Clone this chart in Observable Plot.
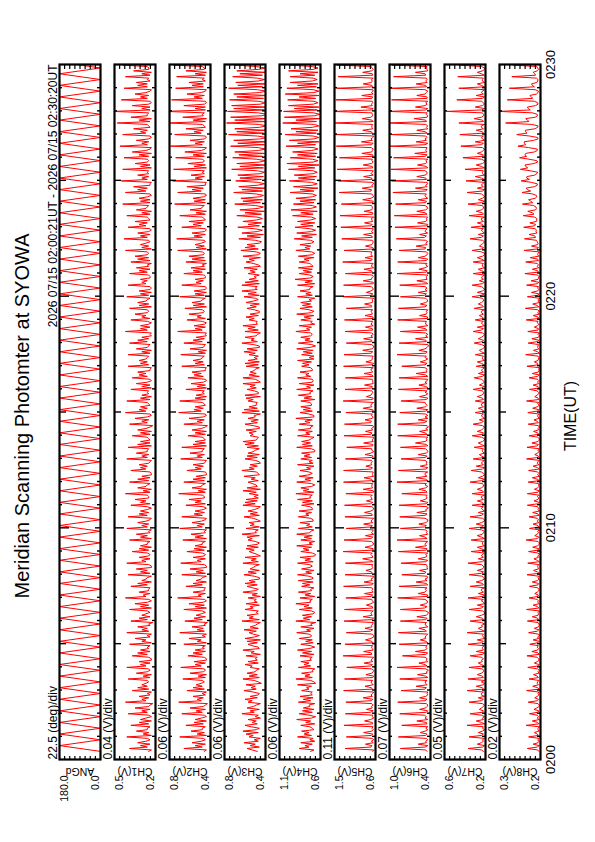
<!DOCTYPE html>
<html><head><meta charset="utf-8">
<script src="https://cdn.jsdelivr.net/npm/d3@7"></script>
<script src="https://cdn.jsdelivr.net/npm/@observablehq/plot@0.6"></script>
<style>
html,body{margin:0;padding:0;background:#fff;overflow:hidden;width:595px;height:842px}
#land{position:absolute;left:0;top:0;width:842px;height:595px;transform-origin:0 0;transform:translate(0,842px) rotate(-90deg);font-family:"Liberation Sans",Arial,sans-serif;background:#fff}
#land svg{position:absolute;left:0;overflow:visible}
</style></head><body><div id="land"></div>
<script>
const title = "Meridian Scanning Photomter at SYOWA";
const period = "2026 07/15 02:00:21UT - 2026 07/15 02:30:20UT";
const timeTicks = [0, 600, 1200, 1800];
const timeLabels = ["0200", "0210", "0220", "0230"];
const axisTitle = "TIME(UT)";
const panelNames = ["ANGd","CH1(V)","CH2(V)","CH3(V)","CH4(V)","CH5(V)","CH6(V)","CH7(V)","CH8(V)"];
const lowVals = [0.0, 0.2, 0.4, 0.4, 0.6, 0.6, 0.4, 0.2, 0.2];
const highVals = [180.0, 0.5, 0.8, 0.8, 1.1, 1.5, 1.0, 0.6, 0.3];
const lowLabels = ["0.0","0.2","0.4","0.4","0.6","0.6","0.4","0.2","0.2"];
const highLabels = ["180.0","0.5","0.8","0.8","1.1","1.5","1.0","0.6","0.3"];
const perDiv = ["22.5 (deg)/div","0.04 (V)/div","0.06 (V)/div","0.06 (V)/div","0.06 (V)/div","0.11 (V)/div","0.07 (V)/div","0.05 (V)/div","0.02 (V)/div"];

// scan angle turning points, one every 15 s from 02:00:21
const angTurns = [0,180,0,180,0,180,0,180,0,180,0,180,0,180,0,180,0,180,0,180,
0,180,0,180,0,180,0,180,0,180,0,180,0,180,0,180,0,180,0,180,
0,180,0,180,0,180,0,180,0,180,0,180,0,180,0,180,0,180,0,180,
0,180,0,180,0,180,0,180,0,180,0,180,0,180,0,180,0,180,0,180,
0,180,0,180,0,180,0,180,0,180,0,180,0,180,0,180,0,180,0,180,
0,180,0,180,0,180,0,180,0,180,0,180,0,180,0,180,0,180,0,180,0];

// channel samples, one every 3.75 s from 02:00:21 (16 per minute, one row per minute)
const ch1 = [
0.25,0.23,0.39,0.26,0.31,0.24,0.33,0.27,0.24,0.26,0.41,0.23,0.29,0.25,0.34,0.26,
0.26,0.24,0.38,0.25,0.32,0.23,0.31,0.27,0.23,0.25,0.40,0.26,0.30,0.24,0.35,0.25,
0.24,0.22,0.42,0.27,0.30,0.25,0.32,0.24,0.26,0.23,0.37,0.25,0.33,0.26,0.30,0.27,
0.25,0.26,0.40,0.24,0.29,0.23,0.34,0.26,0.24,0.25,0.41,0.27,0.31,0.24,0.32,0.23,
0.23,0.25,0.37,0.26,0.33,0.24,0.31,0.25,0.26,0.24,0.39,0.23,0.30,0.27,0.35,0.24,
0.26,0.23,0.41,0.25,0.30,0.26,0.33,0.24,0.25,0.22,0.38,0.26,0.32,0.24,0.30,0.27,
0.24,0.26,0.39,0.23,0.31,0.25,0.35,0.26,0.23,0.25,0.42,0.27,0.29,0.24,0.32,0.25,
0.25,0.24,0.38,0.26,0.33,0.23,0.30,0.27,0.26,0.23,0.40,0.24,0.31,0.26,0.34,0.23,
0.23,0.25,0.41,0.27,0.30,0.24,0.32,0.25,0.24,0.26,0.37,0.25,0.32,0.23,0.31,0.26,
0.26,0.24,0.39,0.23,0.31,0.26,0.34,0.24,0.25,0.23,0.41,0.26,0.30,0.25,0.33,0.27,
0.24,0.23,0.40,0.26,0.32,0.25,0.31,0.26,0.23,0.26,0.38,0.24,0.31,0.27,0.35,0.25,
0.25,0.26,0.42,0.24,0.29,0.23,0.33,0.27,0.26,0.24,0.39,0.25,0.33,0.24,0.30,0.23,
0.23,0.24,0.38,0.27,0.31,0.26,0.32,0.25,0.24,0.23,0.41,0.26,0.30,0.25,0.34,0.26,
0.26,0.25,0.40,0.23,0.33,0.24,0.31,0.24,0.25,0.26,0.37,0.24,0.31,0.23,0.33,0.27,
0.24,0.22,0.39,0.26,0.30,0.25,0.35,0.26,0.23,0.24,0.42,0.27,0.32,0.26,0.31,0.24,
0.25,0.26,0.41,0.24,0.31,0.23,0.30,0.25,0.26,0.25,0.38,0.23,0.30,0.24,0.34,0.26,
0.23,0.24,0.37,0.26,0.32,0.27,0.33,0.24,0.24,0.23,0.40,0.25,0.31,0.26,0.32,0.27,
0.26,0.25,0.40,0.24,0.30,0.23,0.34,0.26,0.25,0.24,0.39,0.26,0.33,0.25,0.30,0.23,
0.24,0.23,0.42,0.26,0.31,0.24,0.31,0.25,0.23,0.26,0.38,0.24,0.30,0.27,0.35,0.26,
0.25,0.26,0.39,0.23,0.32,0.25,0.33,0.27,0.26,0.24,0.41,0.25,0.31,0.23,0.32,0.24,
0.23,0.24,0.40,0.27,0.30,0.26,0.31,0.24,0.24,0.25,0.39,0.26,0.32,0.24,0.34,0.25,
0.26,0.23,0.38,0.24,0.33,0.25,0.35,0.26,0.25,0.26,0.42,0.23,0.30,0.25,0.31,0.27,
0.24,0.25,0.43,0.26,0.31,0.24,0.33,0.25,0.23,0.24,0.40,0.27,0.32,0.26,0.35,0.24,
0.25,0.26,0.41,0.24,0.30,0.23,0.34,0.27,0.26,0.25,0.44,0.24,0.31,0.24,0.32,0.26,
0.23,0.24,0.42,0.27,0.33,0.26,0.36,0.24,0.24,0.23,0.45,0.26,0.30,0.25,0.33,0.25,
0.26,0.25,0.44,0.23,0.31,0.24,0.35,0.26,0.25,0.26,0.43,0.25,0.32,0.23,0.37,0.27,
0.24,0.23,0.46,0.26,0.30,0.25,0.34,0.25,0.23,0.24,0.44,0.27,0.31,0.26,0.36,0.24,
0.25,0.26,0.48,0.24,0.32,0.23,0.38,0.26,0.26,0.25,0.51,0.24,0.30,0.24,0.37,0.25,
0.23,0.24,0.45,0.26,0.31,0.25,0.35,0.27,0.24,0.23,0.43,0.26,0.33,0.26,0.34,0.24,
0.26,0.25,0.42,0.24,0.30,0.23,0.36,0.25,0.25,0.26,0.44,0.23,0.31,0.24,0.33,0.26];
const ch2 = [
0.46,0.44,0.66,0.48,0.55,0.45,0.58,0.49,0.45,0.47,0.70,0.44,0.53,0.46,0.59,0.48,
0.48,0.45,0.64,0.47,0.56,0.44,0.55,0.49,0.44,0.46,0.68,0.48,0.54,0.45,0.60,0.47,
0.45,0.43,0.71,0.49,0.53,0.47,0.57,0.45,0.48,0.44,0.63,0.46,0.57,0.48,0.54,0.49,
0.46,0.48,0.67,0.45,0.52,0.44,0.60,0.47,0.45,0.46,0.69,0.49,0.55,0.45,0.56,0.44,
0.44,0.46,0.62,0.48,0.57,0.45,0.55,0.46,0.48,0.45,0.66,0.44,0.53,0.49,0.61,0.45,
0.48,0.44,0.70,0.46,0.53,0.47,0.58,0.45,0.46,0.43,0.65,0.48,0.56,0.45,0.54,0.49,
0.45,0.48,0.66,0.44,0.55,0.46,0.61,0.47,0.44,0.46,0.72,0.49,0.52,0.45,0.57,0.46,
0.46,0.45,0.64,0.48,0.57,0.44,0.54,0.49,0.48,0.44,0.68,0.45,0.54,0.47,0.60,0.44,
0.44,0.46,0.69,0.49,0.53,0.45,0.57,0.46,0.45,0.48,0.63,0.46,0.56,0.44,0.55,0.48,
0.48,0.45,0.67,0.44,0.55,0.47,0.59,0.45,0.46,0.44,0.70,0.48,0.53,0.46,0.58,0.49,
0.45,0.44,0.68,0.48,0.56,0.46,0.55,0.47,0.44,0.47,0.64,0.45,0.55,0.49,0.61,0.46,
0.46,0.48,0.71,0.45,0.52,0.44,0.58,0.49,0.48,0.45,0.66,0.46,0.57,0.45,0.54,0.44,
0.44,0.45,0.63,0.49,0.55,0.47,0.57,0.46,0.45,0.44,0.69,0.48,0.53,0.46,0.60,0.48,
0.48,0.46,0.68,0.44,0.57,0.45,0.55,0.45,0.46,0.48,0.62,0.45,0.55,0.44,0.58,0.49,
0.45,0.43,0.66,0.48,0.53,0.46,0.61,0.47,0.44,0.45,0.71,0.49,0.56,0.47,0.55,0.45,
0.46,0.48,0.70,0.45,0.55,0.44,0.54,0.46,0.48,0.46,0.64,0.44,0.53,0.45,0.59,0.47,
0.44,0.45,0.62,0.47,0.56,0.49,0.58,0.45,0.45,0.44,0.68,0.46,0.55,0.47,0.57,0.49,
0.48,0.46,0.69,0.45,0.52,0.44,0.60,0.47,0.46,0.45,0.66,0.48,0.57,0.46,0.54,0.44,
0.45,0.44,0.72,0.48,0.55,0.45,0.56,0.46,0.44,0.48,0.63,0.45,0.53,0.49,0.61,0.47,
0.46,0.48,0.65,0.44,0.57,0.46,0.58,0.49,0.48,0.45,0.70,0.46,0.55,0.44,0.56,0.45,
0.44,0.45,0.68,0.49,0.54,0.47,0.55,0.45,0.45,0.46,0.66,0.48,0.57,0.45,0.59,0.46,
0.48,0.44,0.64,0.45,0.58,0.46,0.61,0.47,0.46,0.48,0.72,0.44,0.54,0.46,0.55,0.49,
0.45,0.46,0.73,0.48,0.56,0.45,0.58,0.46,0.44,0.45,0.68,0.49,0.57,0.47,0.61,0.45,
0.46,0.48,0.70,0.45,0.54,0.44,0.60,0.49,0.48,0.46,0.75,0.45,0.56,0.45,0.57,0.47,
0.44,0.45,0.72,0.49,0.58,0.47,0.63,0.45,0.45,0.44,0.77,0.48,0.55,0.46,0.59,0.46,
0.48,0.46,0.76,0.44,0.56,0.45,0.62,0.47,0.46,0.48,0.74,0.46,0.57,0.44,0.65,0.49,
0.45,0.44,0.79,0.48,0.55,0.46,0.60,0.46,0.44,0.45,0.75,0.49,0.56,0.47,0.64,0.45,
0.46,0.48,0.82,0.45,0.57,0.44,0.67,0.47,0.48,0.46,0.84,0.45,0.55,0.45,0.66,0.46,
0.44,0.45,0.78,0.48,0.56,0.46,0.63,0.49,0.45,0.44,0.74,0.47,0.58,0.47,0.61,0.45,
0.48,0.46,0.73,0.45,0.55,0.44,0.64,0.46,0.46,0.48,0.76,0.44,0.56,0.45,0.60,0.47];
const ch3 = [
0.48,0.53,0.58,0.46,0.55,0.50,0.61,0.47,0.51,0.45,0.56,0.52,0.59,0.47,0.62,0.49,
0.46,0.54,0.60,0.48,0.53,0.49,0.57,0.45,0.50,0.47,0.63,0.51,0.55,0.46,0.58,0.52,
0.49,0.45,0.57,0.53,0.60,0.48,0.55,0.47,0.46,0.52,0.61,0.49,0.54,0.50,0.59,0.44,
0.47,0.51,0.62,0.46,0.56,0.48,0.58,0.50,0.49,0.46,0.55,0.53,0.60,0.47,0.57,0.48,
0.50,0.48,0.59,0.45,0.54,0.51,0.62,0.46,0.47,0.53,0.57,0.48,0.58,0.45,0.60,0.51,
0.46,0.52,0.56,0.49,0.61,0.47,0.55,0.50,0.48,0.45,0.63,0.46,0.56,0.52,0.58,0.47,
0.49,0.47,0.60,0.52,0.55,0.46,0.59,0.48,0.51,0.49,0.57,0.45,0.53,0.48,0.62,0.50,
0.47,0.53,0.58,0.48,0.60,0.50,0.56,0.46,0.46,0.51,0.61,0.49,0.57,0.46,0.55,0.52,
0.50,0.46,0.62,0.47,0.54,0.49,0.60,0.45,0.48,0.52,0.56,0.51,0.59,0.47,0.58,0.48,
0.46,0.50,0.57,0.53,0.58,0.46,0.63,0.49,0.50,0.47,0.59,0.46,0.55,0.51,0.56,0.45,
0.48,0.52,0.61,0.46,0.55,0.48,0.57,0.51,0.47,0.45,0.62,0.50,0.60,0.48,0.59,0.47,
0.51,0.47,0.56,0.49,0.62,0.45,0.58,0.48,0.49,0.53,0.57,0.47,0.54,0.50,0.61,0.46,
0.47,0.49,0.63,0.51,0.56,0.48,0.55,0.45,0.46,0.50,0.60,0.48,0.58,0.46,0.57,0.52,
0.50,0.46,0.58,0.47,0.60,0.51,0.62,0.49,0.48,0.47,0.55,0.52,0.56,0.49,0.59,0.46,
0.46,0.52,0.60,0.48,0.54,0.47,0.57,0.50,0.51,0.45,0.63,0.46,0.61,0.48,0.56,0.49,
0.49,0.48,0.57,0.52,0.59,0.45,0.60,0.47,0.47,0.51,0.58,0.49,0.55,0.50,0.62,0.45,
0.47,0.50,0.62,0.46,0.56,0.49,0.55,0.51,0.50,0.46,0.59,0.47,0.60,0.46,0.57,0.48,
0.51,0.47,0.56,0.50,0.61,0.48,0.58,0.46,0.46,0.52,0.63,0.48,0.54,0.51,0.60,0.49,
0.48,0.45,0.60,0.47,0.57,0.50,0.62,0.48,0.49,0.48,0.56,0.51,0.59,0.47,0.55,0.46,
0.46,0.51,0.58,0.49,0.55,0.46,0.59,0.52,0.47,0.50,0.61,0.46,0.57,0.49,0.63,0.48,
0.50,0.48,0.63,0.46,0.60,0.47,0.56,0.49,0.51,0.46,0.57,0.50,0.55,0.48,0.61,0.45,
0.47,0.52,0.59,0.51,0.56,0.45,0.62,0.47,0.45,0.49,0.64,0.47,0.60,0.50,0.58,0.46,
0.44,0.50,0.66,0.45,0.58,0.42,0.63,0.48,0.43,0.51,0.67,0.46,0.57,0.44,0.62,0.49,
0.43,0.48,0.68,0.44,0.60,0.41,0.65,0.47,0.42,0.50,0.70,0.45,0.62,0.43,0.64,0.46,
0.42,0.49,0.71,0.43,0.63,0.40,0.66,0.48,0.41,0.47,0.69,0.44,0.65,0.42,0.67,0.45,
0.41,0.48,0.73,0.42,0.65,0.39,0.68,0.46,0.40,0.49,0.72,0.43,0.66,0.41,0.70,0.47,
0.40,0.47,0.74,0.41,0.67,0.38,0.71,0.45,0.39,0.48,0.76,0.42,0.68,0.40,0.70,0.46,
0.39,0.46,0.78,0.40,0.70,0.37,0.74,0.44,0.38,0.47,0.77,0.41,0.71,0.39,0.73,0.45,
0.40,0.47,0.75,0.42,0.68,0.38,0.71,0.46,0.39,0.48,0.76,0.43,0.67,0.40,0.69,0.47,
0.41,0.48,0.72,0.43,0.65,0.39,0.68,0.47,0.40,0.49,0.70,0.44,0.64,0.41,0.67,0.46];
const ch4 = [
0.72,0.68,0.86,0.74,0.79,0.70,0.84,0.67,0.73,0.69,0.88,0.71,0.80,0.74,0.83,0.68,
0.70,0.73,0.84,0.67,0.78,0.72,0.89,0.71,0.66,0.74,0.86,0.70,0.82,0.68,0.81,0.73,
0.74,0.67,0.87,0.72,0.81,0.69,0.85,0.70,0.72,0.70,0.83,0.74,0.77,0.71,0.88,0.66,
0.68,0.72,0.90,0.70,0.79,0.73,0.83,0.69,0.70,0.67,0.87,0.72,0.80,0.74,0.84,0.71,
0.73,0.70,0.85,0.68,0.82,0.71,0.88,0.74,0.67,0.72,0.84,0.69,0.78,0.70,0.86,0.72,
0.71,0.74,0.89,0.72,0.77,0.68,0.84,0.70,0.72,0.66,0.90,0.73,0.81,0.71,0.82,0.69,
0.67,0.71,0.86,0.70,0.80,0.74,0.90,0.72,0.73,0.70,0.85,0.67,0.79,0.72,0.87,0.71,
0.72,0.68,0.83,0.73,0.82,0.69,0.87,0.70,0.69,0.74,0.88,0.71,0.78,0.68,0.83,0.73,
0.70,0.73,0.88,0.69,0.79,0.72,0.85,0.67,0.66,0.70,0.84,0.74,0.81,0.71,0.89,0.70,
0.74,0.67,0.84,0.71,0.80,0.70,0.89,0.73,0.72,0.68,0.87,0.70,0.77,0.73,0.85,0.69,
0.69,0.72,0.87,0.74,0.78,0.71,0.86,0.70,0.70,0.73,0.83,0.68,0.82,0.70,0.88,0.72,
0.73,0.70,0.90,0.68,0.81,0.74,0.84,0.71,0.67,0.71,0.89,0.72,0.79,0.69,0.86,0.74,
0.70,0.74,0.85,0.72,0.77,0.68,0.88,0.69,0.74,0.70,0.84,0.71,0.80,0.73,0.83,0.67,
0.67,0.71,0.89,0.70,0.82,0.72,0.83,0.74,0.71,0.68,0.88,0.73,0.78,0.70,0.87,0.72,
0.72,0.69,0.86,0.73,0.79,0.70,0.90,0.68,0.68,0.74,0.85,0.70,0.81,0.72,0.84,0.71,
0.71,0.73,0.84,0.67,0.80,0.71,0.87,0.72,0.73,0.69,0.89,0.72,0.77,0.68,0.86,0.70,
0.69,0.70,0.88,0.72,0.78,0.74,0.85,0.70,0.70,0.72,0.83,0.74,0.82,0.71,0.88,0.68,
0.74,0.68,0.83,0.70,0.81,0.69,0.89,0.73,0.66,0.71,0.87,0.69,0.79,0.73,0.84,0.72,
0.70,0.72,0.90,0.73,0.77,0.71,0.86,0.67,0.72,0.70,0.84,0.72,0.80,0.68,0.89,0.71,
0.68,0.74,0.85,0.70,0.82,0.72,0.84,0.71,0.74,0.67,0.88,0.70,0.78,0.72,0.85,0.73,
0.73,0.69,0.88,0.67,0.79,0.70,0.91,0.72,0.69,0.73,0.86,0.71,0.81,0.70,0.87,0.69,
0.71,0.73,0.86,0.74,0.80,0.68,0.87,0.70,0.67,0.71,0.90,0.73,0.79,0.72,0.85,0.71,
0.68,0.72,0.92,0.70,0.83,0.65,0.89,0.71,0.66,0.73,0.91,0.69,0.84,0.67,0.88,0.72,
0.66,0.71,0.94,0.69,0.84,0.64,0.96,0.72,0.65,0.70,0.93,0.68,0.85,0.66,0.90,0.70,
0.65,0.70,0.97,0.68,0.85,0.63,0.93,0.70,0.64,0.71,0.98,0.67,0.87,0.65,0.92,0.69,
0.64,0.69,0.99,0.67,0.87,0.62,1.01,0.69,0.63,0.70,0.97,0.66,0.88,0.64,0.94,0.71,
0.63,0.68,1.02,0.66,0.88,0.62,0.98,0.68,0.62,0.69,1.03,0.65,0.90,0.63,0.96,0.70,
0.62,0.67,1.06,0.65,0.90,0.61,1.04,0.67,0.61,0.68,1.05,0.64,0.92,0.62,0.99,0.69,
0.63,0.68,1.00,0.66,0.86,0.62,1.03,0.68,0.62,0.69,1.01,0.65,0.88,0.63,0.97,0.70,
0.64,0.69,0.97,0.67,0.85,0.63,0.99,0.69,0.63,0.70,0.98,0.66,0.86,0.64,0.95,0.71];
const ch5 = [
0.66,0.64,1.27,0.70,0.68,0.82,0.65,0.69,0.64,0.67,1.24,0.69,0.66,0.86,0.68,0.65,
0.68,0.65,1.29,0.66,0.67,0.84,0.71,0.64,0.67,0.66,1.26,0.71,0.65,0.80,0.67,0.69,
0.65,0.68,1.25,0.69,0.66,0.87,0.67,0.70,0.66,0.64,1.30,0.67,0.69,0.83,0.65,0.68,
0.70,0.66,1.28,0.66,0.64,0.81,0.68,0.65,0.64,0.69,1.23,0.70,0.67,0.85,0.66,0.70,
0.67,0.64,1.31,0.68,0.69,0.86,0.65,0.67,0.69,0.66,1.27,0.65,0.68,0.82,0.70,0.64,
0.64,0.67,1.24,0.71,0.66,0.83,0.68,0.69,0.66,0.65,1.29,0.68,0.64,0.87,0.67,0.70,
0.69,0.65,1.28,0.66,0.67,0.80,0.70,0.64,0.67,0.68,1.25,0.70,0.66,0.84,0.65,0.68,
0.66,0.68,1.30,0.68,0.65,0.85,0.67,0.70,0.65,0.64,1.27,0.67,0.69,0.81,0.68,0.66,
0.68,0.66,1.26,0.65,0.70,0.88,0.66,0.67,0.70,0.67,1.31,0.66,0.65,0.83,0.69,0.64,
0.65,0.69,1.29,0.70,0.66,0.82,0.64,0.69,0.66,0.65,1.24,0.69,0.67,0.86,0.66,0.70,
0.67,0.64,1.27,0.67,0.68,0.84,0.70,0.65,0.64,0.68,1.28,0.71,0.66,0.80,0.67,0.69,
0.70,0.67,1.25,0.64,0.65,0.87,0.66,0.68,0.68,0.66,1.30,0.66,0.69,0.85,0.64,0.67,
0.66,0.65,1.30,0.69,0.67,0.81,0.68,0.70,0.67,0.69,1.26,0.68,0.65,0.83,0.70,0.64,
0.68,0.68,1.23,0.66,0.66,0.86,0.65,0.67,0.65,0.64,1.29,0.70,0.68,0.82,0.66,0.69,
0.64,0.66,1.28,0.71,0.69,0.83,0.67,0.65,0.69,0.67,1.25,0.65,0.66,0.87,0.68,0.70,
0.69,0.64,1.31,0.67,0.65,0.80,0.70,0.68,0.66,0.68,1.27,0.68,0.67,0.84,0.65,0.66,
0.66,0.67,1.26,0.65,0.68,0.85,0.66,0.69,0.70,0.65,1.30,0.67,0.64,0.81,0.69,0.67,
0.67,0.65,1.29,0.70,0.66,0.88,0.68,0.64,0.64,0.69,1.24,0.69,0.68,0.86,0.66,0.70,
0.65,0.68,1.27,0.66,0.67,0.82,0.65,0.70,0.68,0.66,1.28,0.66,0.65,0.83,0.67,0.68,
0.70,0.66,1.24,0.68,0.69,0.84,0.67,0.66,0.67,0.64,1.31,0.70,0.66,0.80,0.70,0.65,
0.66,0.69,1.30,0.65,0.65,0.87,0.69,0.68,0.65,0.67,1.26,0.67,0.69,0.85,0.64,0.69,
0.68,0.65,1.32,0.69,0.67,0.83,0.66,0.70,0.69,0.68,1.29,0.64,0.66,0.82,0.68,0.66,
0.65,0.67,1.34,0.67,0.68,0.86,0.65,0.69,0.66,0.65,1.36,0.70,0.67,0.84,0.66,0.68,
0.69,0.64,1.38,0.66,0.66,0.85,0.68,0.67,0.67,0.69,1.35,0.66,0.65,0.88,0.70,0.64,
0.66,0.68,1.40,0.70,0.69,0.89,0.66,0.68,0.64,0.66,1.42,0.68,0.68,0.86,0.65,0.70,
0.67,0.65,1.44,0.66,0.67,0.87,0.69,0.65,0.68,0.67,1.39,0.65,0.66,0.90,0.68,0.67,
0.65,0.69,1.46,0.69,0.65,0.91,0.67,0.70,0.66,0.64,1.48,0.67,0.69,0.88,0.66,0.68,
0.68,0.66,1.52,0.65,0.68,0.89,0.70,0.66,0.67,0.68,1.55,0.69,0.65,0.92,0.67,0.69,
0.66,0.67,1.47,0.68,0.66,0.90,0.65,0.69,0.65,0.66,1.45,0.66,0.68,0.87,0.69,0.67,
0.69,0.65,1.42,0.66,0.67,0.88,0.68,0.65,0.68,0.69,1.44,0.67,0.66,0.89,0.66,0.70];
const ch6 = [
0.45,0.47,0.84,0.48,0.44,0.58,0.46,0.47,0.44,0.46,0.87,0.47,0.45,0.55,0.48,0.44,
0.47,0.44,0.82,0.45,0.46,0.60,0.44,0.48,0.46,0.49,0.85,0.46,0.44,0.56,0.47,0.45,
0.44,0.46,0.88,0.48,0.45,0.56,0.47,0.44,0.45,0.44,0.83,0.48,0.46,0.61,0.45,0.47,
0.48,0.45,0.85,0.44,0.47,0.59,0.45,0.46,0.43,0.47,0.89,0.45,0.48,0.57,0.44,0.46,
0.45,0.48,0.81,0.47,0.44,0.62,0.48,0.45,0.47,0.45,0.86,0.44,0.46,0.55,0.47,0.48,
0.46,0.44,0.87,0.46,0.48,0.57,0.44,0.47,0.48,0.46,0.84,0.47,0.45,0.60,0.46,0.44,
0.43,0.47,0.84,0.49,0.45,0.55,0.47,0.44,0.45,0.48,0.88,0.45,0.44,0.58,0.48,0.46,
0.48,0.45,0.86,0.44,0.46,0.61,0.45,0.48,0.44,0.45,0.82,0.48,0.47,0.56,0.44,0.45,
0.45,0.46,0.83,0.47,0.44,0.58,0.48,0.45,0.47,0.44,0.87,0.46,0.45,0.62,0.46,0.48,
0.47,0.44,0.89,0.45,0.48,0.56,0.44,0.46,0.45,0.47,0.84,0.49,0.46,0.57,0.47,0.44,
0.44,0.48,0.85,0.48,0.45,0.60,0.46,0.47,0.43,0.45,0.86,0.46,0.44,0.55,0.48,0.45,
0.46,0.45,0.82,0.45,0.47,0.57,0.47,0.44,0.48,0.46,0.89,0.44,0.47,0.61,0.45,0.48,
0.48,0.44,0.87,0.47,0.44,0.55,0.45,0.46,0.45,0.48,0.83,0.48,0.45,0.58,0.46,0.44,
0.45,0.47,0.84,0.44,0.46,0.62,0.48,0.45,0.46,0.44,0.88,0.45,0.48,0.56,0.44,0.47,
0.43,0.45,0.88,0.49,0.45,0.58,0.44,0.48,0.44,0.47,0.85,0.47,0.44,0.60,0.47,0.45,
0.47,0.48,0.83,0.46,0.44,0.56,0.47,0.44,0.48,0.45,0.87,0.44,0.46,0.57,0.45,0.48,
0.45,0.44,0.86,0.44,0.47,0.61,0.45,0.46,0.45,0.48,0.82,0.48,0.45,0.55,0.48,0.44,
0.48,0.46,0.89,0.47,0.45,0.57,0.48,0.45,0.43,0.44,0.86,0.46,0.47,0.62,0.44,0.47,
0.44,0.47,0.84,0.45,0.48,0.59,0.44,0.47,0.47,0.46,0.88,0.45,0.44,0.56,0.46,0.45,
0.46,0.44,0.87,0.48,0.45,0.55,0.47,0.44,0.45,0.47,0.84,0.49,0.46,0.58,0.45,0.48,
0.45,0.48,0.85,0.44,0.47,0.60,0.45,0.46,0.46,0.44,0.89,0.46,0.45,0.57,0.48,0.44,
0.47,0.45,0.88,0.46,0.44,0.58,0.48,0.45,0.44,0.46,0.86,0.48,0.47,0.61,0.45,0.47,
0.44,0.47,0.90,0.49,0.46,0.56,0.44,0.48,0.47,0.45,0.92,0.45,0.44,0.59,0.47,0.45,
0.46,0.44,0.93,0.45,0.48,0.60,0.47,0.44,0.45,0.48,0.91,0.47,0.46,0.58,0.44,0.47,
0.48,0.46,0.95,0.47,0.45,0.62,0.45,0.47,0.44,0.45,0.97,0.46,0.47,0.60,0.48,0.45,
0.45,0.48,0.98,0.44,0.46,0.59,0.47,0.45,0.47,0.44,0.94,0.48,0.45,0.63,0.45,0.47,
0.46,0.45,1.00,0.48,0.44,0.61,0.46,0.48,0.45,0.47,0.97,0.45,0.48,0.60,0.44,0.46,
0.44,0.47,1.03,0.46,0.47,0.64,0.45,0.44,0.46,0.45,1.01,0.47,0.44,0.62,0.48,0.45,
0.47,0.44,0.97,0.45,0.45,0.60,0.48,0.46,0.44,0.48,0.99,0.46,0.47,0.61,0.45,0.47,
0.45,0.46,0.94,0.47,0.48,0.62,0.44,0.45,0.46,0.45,0.96,0.44,0.45,0.59,0.47,0.48];
const ch7 = [
0.22,0.24,0.37,0.23,0.21,0.28,0.24,0.22,0.23,0.21,0.36,0.24,0.22,0.27,0.23,0.21,
0.23,0.22,0.38,0.21,0.24,0.29,0.22,0.23,0.21,0.24,0.35,0.23,0.22,0.26,0.24,0.22,
0.21,0.23,0.36,0.24,0.22,0.27,0.21,0.24,0.24,0.22,0.38,0.22,0.23,0.29,0.22,0.21,
0.24,0.21,0.37,0.22,0.23,0.28,0.24,0.22,0.22,0.23,0.36,0.21,0.24,0.27,0.23,0.24,
0.22,0.24,0.35,0.23,0.21,0.29,0.22,0.23,0.23,0.21,0.37,0.24,0.22,0.28,0.21,0.22,
0.23,0.22,0.38,0.21,0.24,0.27,0.23,0.24,0.21,0.24,0.35,0.22,0.23,0.29,0.24,0.21,
0.21,0.23,0.36,0.24,0.22,0.28,0.21,0.22,0.24,0.22,0.37,0.23,0.21,0.27,0.22,0.24,
0.24,0.21,0.35,0.22,0.23,0.29,0.24,0.21,0.22,0.23,0.36,0.24,0.22,0.28,0.23,0.22,
0.22,0.24,0.37,0.23,0.21,0.27,0.22,0.24,0.23,0.21,0.34,0.21,0.24,0.28,0.21,0.23,
0.23,0.22,0.34,0.21,0.24,0.28,0.23,0.22,0.21,0.24,0.36,0.23,0.22,0.29,0.24,0.21,
0.21,0.23,0.35,0.24,0.22,0.27,0.21,0.23,0.24,0.22,0.33,0.22,0.23,0.28,0.22,0.24,
0.24,0.21,0.33,0.22,0.23,0.28,0.24,0.22,0.22,0.23,0.35,0.24,0.21,0.27,0.23,0.21,
0.22,0.24,0.34,0.23,0.21,0.29,0.22,0.24,0.23,0.21,0.32,0.21,0.24,0.26,0.21,0.23,
0.23,0.22,0.31,0.21,0.24,0.27,0.23,0.21,0.21,0.24,0.33,0.23,0.22,0.28,0.24,0.22,
0.21,0.23,0.32,0.24,0.22,0.26,0.21,0.23,0.24,0.22,0.30,0.22,0.23,0.27,0.22,0.24,
0.24,0.21,0.30,0.22,0.23,0.28,0.24,0.22,0.22,0.23,0.32,0.24,0.21,0.26,0.23,0.21,
0.22,0.24,0.31,0.23,0.21,0.27,0.22,0.24,0.23,0.21,0.29,0.21,0.24,0.28,0.21,0.23,
0.23,0.22,0.30,0.21,0.24,0.26,0.23,0.21,0.21,0.24,0.31,0.23,0.22,0.27,0.24,0.22,
0.21,0.23,0.32,0.24,0.22,0.28,0.21,0.23,0.24,0.22,0.30,0.22,0.23,0.26,0.22,0.24,
0.24,0.21,0.31,0.22,0.23,0.27,0.24,0.22,0.22,0.23,0.33,0.24,0.21,0.28,0.23,0.21,
0.22,0.24,0.33,0.23,0.21,0.26,0.22,0.24,0.23,0.21,0.32,0.21,0.24,0.27,0.21,0.23,
0.23,0.22,0.32,0.21,0.24,0.28,0.23,0.21,0.21,0.24,0.33,0.23,0.22,0.26,0.24,0.22,
0.21,0.23,0.35,0.24,0.22,0.27,0.21,0.23,0.24,0.22,0.34,0.22,0.23,0.28,0.22,0.24,
0.24,0.21,0.36,0.22,0.23,0.29,0.24,0.22,0.22,0.23,0.37,0.24,0.21,0.27,0.23,0.21,
0.22,0.24,0.38,0.23,0.21,0.28,0.22,0.24,0.23,0.21,0.39,0.21,0.24,0.30,0.21,0.23,
0.23,0.22,0.40,0.21,0.24,0.29,0.23,0.21,0.21,0.24,0.42,0.23,0.22,0.28,0.24,0.22,
0.21,0.23,0.44,0.24,0.22,0.30,0.21,0.23,0.24,0.22,0.45,0.22,0.23,0.29,0.22,0.24,
0.24,0.21,0.46,0.22,0.23,0.31,0.24,0.22,0.22,0.23,0.58,0.24,0.21,0.30,0.23,0.21,
0.22,0.24,0.48,0.23,0.21,0.29,0.22,0.24,0.23,0.21,0.46,0.21,0.24,0.28,0.21,0.23,
0.23,0.22,0.47,0.21,0.24,0.28,0.23,0.21,0.21,0.24,0.46,0.23,0.22,0.29,0.24,0.22];
const ch8 = [
0.204,0.207,0.232,0.208,0.203,0.218,0.206,0.204,0.207,0.203,0.229,0.205,0.208,0.215,0.204,0.206,
0.206,0.203,0.235,0.204,0.207,0.220,0.203,0.208,0.205,0.208,0.227,0.207,0.204,0.216,0.209,0.203,
0.203,0.206,0.230,0.207,0.205,0.214,0.208,0.204,0.206,0.204,0.234,0.203,0.207,0.219,0.205,0.208,
0.207,0.204,0.228,0.205,0.208,0.217,0.204,0.206,0.203,0.207,0.231,0.206,0.204,0.215,0.208,0.203,
0.205,0.208,0.233,0.203,0.206,0.221,0.207,0.205,0.208,0.205,0.226,0.208,0.203,0.218,0.204,0.207,
0.203,0.205,0.229,0.208,0.204,0.215,0.205,0.203,0.204,0.206,0.232,0.204,0.207,0.220,0.206,0.205,
0.206,0.203,0.234,0.204,0.207,0.218,0.203,0.207,0.205,0.208,0.228,0.207,0.205,0.214,0.208,0.204,
0.204,0.207,0.227,0.206,0.205,0.220,0.207,0.204,0.206,0.204,0.233,0.203,0.208,0.217,0.205,0.206,
0.207,0.204,0.231,0.203,0.208,0.216,0.205,0.207,0.203,0.206,0.229,0.206,0.204,0.219,0.207,0.203,
0.203,0.206,0.235,0.207,0.204,0.214,0.208,0.205,0.207,0.203,0.227,0.204,0.206,0.218,0.204,0.208,
0.205,0.208,0.228,0.204,0.206,0.219,0.203,0.206,0.205,0.207,0.232,0.207,0.203,0.216,0.206,0.204,
0.208,0.204,0.232,0.206,0.203,0.215,0.207,0.204,0.204,0.205,0.230,0.203,0.208,0.220,0.203,0.207,
0.204,0.207,0.229,0.203,0.207,0.218,0.204,0.208,0.206,0.203,0.234,0.206,0.205,0.214,0.207,0.204,
0.206,0.203,0.233,0.208,0.205,0.221,0.206,0.203,0.203,0.207,0.228,0.204,0.207,0.217,0.205,0.206,
0.203,0.205,0.230,0.205,0.208,0.216,0.203,0.206,0.207,0.204,0.231,0.207,0.204,0.219,0.208,0.203,
0.207,0.204,0.234,0.204,0.206,0.214,0.208,0.205,0.205,0.208,0.227,0.203,0.206,0.218,0.204,0.207,
0.205,0.207,0.228,0.207,0.203,0.220,0.205,0.204,0.204,0.203,0.233,0.206,0.207,0.215,0.206,0.205,
0.204,0.206,0.236,0.203,0.207,0.217,0.204,0.207,0.206,0.205,0.230,0.208,0.204,0.221,0.205,0.203,
0.206,0.203,0.231,0.206,0.205,0.215,0.207,0.204,0.208,0.206,0.235,0.204,0.206,0.218,0.203,0.207,
0.203,0.207,0.237,0.204,0.208,0.219,0.203,0.206,0.205,0.203,0.232,0.207,0.204,0.222,0.207,0.204,
0.207,0.205,0.234,0.208,0.204,0.223,0.206,0.205,0.204,0.207,0.238,0.205,0.207,0.220,0.204,0.208,
0.205,0.208,0.236,0.205,0.207,0.225,0.204,0.207,0.206,0.204,0.240,0.208,0.205,0.222,0.207,0.206,
0.208,0.210,0.239,0.212,0.214,0.228,0.209,0.211,0.210,0.213,0.241,0.214,0.212,0.226,0.210,0.209,
0.209,0.214,0.242,0.216,0.220,0.231,0.212,0.210,0.211,0.217,0.244,0.219,0.224,0.229,0.213,0.209,
0.210,0.220,0.245,0.224,0.232,0.235,0.215,0.208,0.208,0.222,0.247,0.227,0.234,0.233,0.214,0.209,
0.207,0.225,0.249,0.231,0.236,0.238,0.216,0.207,0.209,0.228,0.251,0.234,0.238,0.236,0.215,0.208,
0.208,0.229,0.255,0.236,0.239,0.240,0.217,0.206,0.207,0.227,0.258,0.233,0.237,0.237,0.214,0.207,
0.206,0.221,0.285,0.228,0.232,0.236,0.213,0.207,0.208,0.219,0.302,0.225,0.230,0.232,0.212,0.206,
0.207,0.215,0.281,0.219,0.222,0.226,0.210,0.206,0.205,0.213,0.276,0.215,0.220,0.222,0.209,0.207,
0.206,0.210,0.270,0.212,0.214,0.218,0.208,0.205,0.207,0.209,0.266,0.210,0.213,0.216,0.207,0.206];

// ---- layout (landscape, rotated onto the portrait page) ----
const W = 842, ML = 82, MR = 65, PH = 41, TOP0 = 59, STEP = 55;
const SPP = 1800 / (W - ML - MR);
const font = "'Liberation Sans', Arial, Helvetica, sans-serif";

const series = [
  angTurns.map((v, k) => ({t: 21 + 15 * k, v})),
  ...[ch1, ch2, ch3, ch4, ch5, ch6, ch7, ch8].map(a => a.map((v, i) => ({t: 21 + 3.75 * i, v})))
];

const land = document.getElementById("land");
const minutes = d3.range(1, 30);
const topLen = m => m % 10 === 0 ? 10 : m % 5 === 0 ? 7 : 3;
const botLen = m => m % 10 === 0 ? 5 : 3;

series.forEach((data, i) => {
  const lo = lowVals[i], hi = highVals[i];
  const vpp = (hi - lo) / PH;
  const mt = i === 0 ? 59 : 16;
  const mb = i === 8 ? 50 : 3;
  const divs = d3.range(1, 8).map(k => lo + k * (hi - lo) / 8);
  const marks = [
    Plot.line(data, {x: "t", y: "v", stroke: "#ff0000", strokeWidth: 1, clip: true}),
    Plot.ruleX(minutes, {x: m => m * 60, y1: hi, y2: m => hi - topLen(m) * vpp, stroke: "black", strokeWidth: 1.4}),
    Plot.ruleX(minutes, {x: m => m * 60, y1: lo, y2: m => lo + botLen(m) * vpp, stroke: "black", strokeWidth: 1.4}),
    Plot.ruleY(divs, {y: d => d, x1: 0, x2: 4 * SPP, stroke: "black", strokeWidth: 1.2}),
    Plot.ruleY(divs, {y: d => d, x1: 1800, x2: 1800 - 4 * SPP, stroke: "black", strokeWidth: 1.2}),
    Plot.frame({stroke: "black", strokeWidth: 2.2}),
    Plot.text([perDiv[i]], {text: d => d, frameAnchor: "top-left", dy: -3, lineAnchor: "bottom", textAnchor: "start", fontSize: 12}),
    Plot.text([highLabels[i]], {text: d => d, frameAnchor: "top-left", dx: -16, dy: 5, textAnchor: "end", lineAnchor: "middle", fontSize: 10.5}),
    Plot.text([lowLabels[i]], {text: d => d, frameAnchor: "bottom-left", dx: -16, dy: -5, textAnchor: "end", lineAnchor: "middle", fontSize: 10.5}),
    Plot.text([panelNames[i]], {text: d => d, frameAnchor: "left", dx: -12, rotate: -90, textAnchor: "middle", lineAnchor: "middle", fontSize: 10.5})
  ];
  if (i === 0) {
    marks.push(Plot.text([title], {text: d => d, frameAnchor: "top", dx: -4, dy: -37, lineAnchor: "middle", fontSize: 20}));
    marks.push(Plot.text([period], {text: d => d, frameAnchor: "top-right", dy: -3, lineAnchor: "bottom", textAnchor: "end", fontSize: 12}));
  }
  if (i === 8) {
    marks.push(Plot.text(timeTicks, {x: d => d, text: (d, j) => timeLabels[j], frameAnchor: "bottom", dy: 5, lineAnchor: "top", fontSize: 13}));
    marks.push(Plot.text([axisTitle], {text: d => d, frameAnchor: "bottom", dx: -4, dy: 24, lineAnchor: "top", fontSize: 16}));
  }
  const svg = Plot.plot({
    width: W, height: PH + mt + mb,
    marginLeft: ML, marginRight: MR, marginTop: mt, marginBottom: mb,
    x: {domain: [0, 1800], axis: null},
    y: {domain: [lo, hi], axis: null},
    style: {fontFamily: font, background: "transparent", overflow: "visible", color: "black"},
    marks
  });
  svg.style.top = (TOP0 + i * STEP - mt) + "px";
  land.appendChild(svg);
});
</script></body></html>
